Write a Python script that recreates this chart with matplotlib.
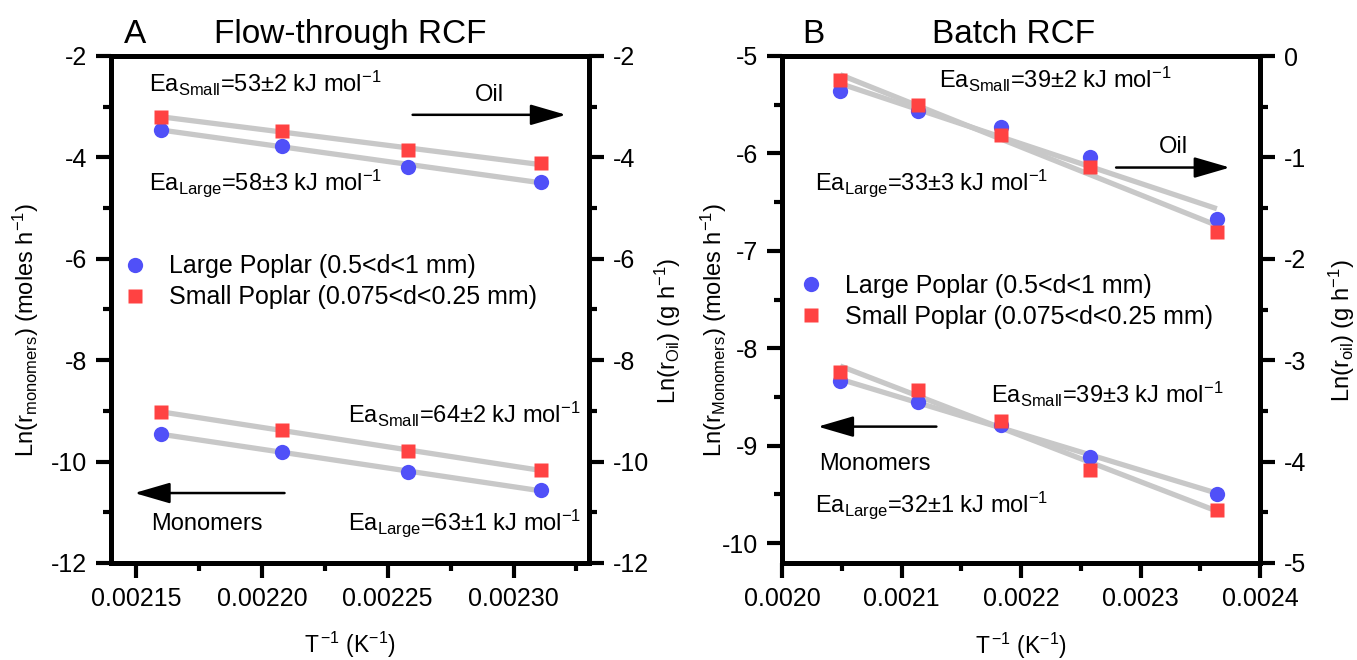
import numpy as np
import matplotlib
matplotlib.use('Agg')
import matplotlib.pyplot as plt
from matplotlib.ticker import MultipleLocator, FormatStrFormatter

plt.rcParams['font.family'] = ['Liberation Sans', 'DejaVu Sans']
plt.rcParams['mathtext.fontset'] = 'custom'
plt.rcParams['mathtext.rm'] = 'Liberation Sans'
plt.rcParams['mathtext.it'] = 'Liberation Sans:italic'
plt.rcParams['mathtext.bf'] = 'Liberation Sans:bold'
plt.rcParams['axes.unicode_minus'] = False

# ---------------- data ----------------
# Panel A: flow-through RCF
xA = [0.002160, 0.002208, 0.002258, 0.002311]
oilA_large = [-3.46, -3.77, -4.18, -4.48]
oilA_small = [-3.20, -3.475, -3.86, -4.12]
monA_large = [-9.46, -9.81, -10.20, -10.57]
monA_small = [-9.02, -9.37, -9.80, -10.16]

# Panel B: batch RCF
xB = [0.0020487, 0.002114, 0.0021834, 0.0022574, 0.0023639]
oilB_large = [-0.346, -0.544, -0.702, -0.998, -1.605]
oilB_small = [-0.237, -0.484, -0.781, -1.097, -1.736]
monB_large = [-8.339, -8.549, -8.786, -9.112, -9.492]
monB_small = [-8.24, -8.434, -8.752, -9.247, -9.661]

label_large = 'Large Poplar (0.5<d<1 mm)'
label_small = 'Small Poplar (0.075<d<0.25 mm)'

BLUE = '#5050F8'
RED = '#FF4242'
GRAY = '#C8C8C8'
FS = 17        # annotations / axis titles
FS_TICK = 18
FS_LEG = 18
FS_TITLE = 24

fig = plt.figure(figsize=(13.57, 6.6), dpi=100)
W, H = 1357, 660


def make_axes(left_px, right_px, top_px, bottom_px):
    return fig.add_axes([left_px / W, 1 - bottom_px / H,
                         (right_px - left_px) / W, (bottom_px - top_px) / H])


def style(ax):
    for s in ax.spines.values():
        s.set_linewidth(3.6)
    ax.tick_params(which='major', direction='out', length=11, width=3,
                   labelsize=FS_TICK, pad=6)
    ax.tick_params(which='minor', direction='out', length=6, width=3)


def fit_line(ax, x, y):
    x = np.asarray(x)
    p = np.polyfit(x, y, 1)
    xx = np.array([x.min(), x.max()])
    ax.plot(xx, np.polyval(p, xx), color=GRAY, lw=3.8, zorder=1,
            solid_capstyle='butt')


def series(ax, x, yl, ys):
    fit_line(ax, x, yl)
    fit_line(ax, x, ys)
    h1, = ax.plot(x, yl, 'o', color=BLUE, ms=11, mec='none', zorder=3,
                  label=label_large)
    h2, = ax.plot(x, ys, 's', color=RED, ms=10, mec='none', zorder=3,
                  label=label_small)
    return h1, h2


def arrow(ax, x0, x1, y):
    ax.annotate('', xy=(x1, y), xytext=(x0, y), xycoords='axes fraction',
                textcoords='axes fraction',
                arrowprops=dict(arrowstyle='-|>,head_length=1.1,head_width=0.32',
                                mutation_scale=20, lw=1.8, color='black',
                                shrinkA=0, shrinkB=0))


def txt(ax, x, y, s, **kw):
    ax.text(x, y, s, transform=ax.transAxes, fontsize=FS, va='baseline', **kw)


XLABEL = r'T$^{\,\mathrm{-1}}$ (K$^{\mathrm{-1}}$)'

# ================= Panel A =================
axA = make_axes(111, 589, 56, 563)
axA2 = axA.twinx()
for a in (axA, axA2):
    style(a)
    a.set_xlim(0.00214, 0.00233)
    a.set_ylim(-12, -2)
    a.yaxis.set_major_locator(MultipleLocator(2))
    a.yaxis.set_minor_locator(MultipleLocator(1))
    a.yaxis.set_major_formatter(FormatStrFormatter('%d'))
axA.xaxis.set_major_locator(MultipleLocator(0.00005))
axA.xaxis.set_minor_locator(MultipleLocator(0.000025))
axA.xaxis.set_major_formatter(FormatStrFormatter('%.5f'))

series(axA, xA, monA_large, monA_small)
h1, h2 = series(axA2, xA, oilA_large, oilA_small)

axA.text(0.028, 1.026, 'A', transform=axA.transAxes, fontsize=FS_TITLE, va='baseline')
axA.text(0.5, 1.026, 'Flow-through RCF', transform=axA.transAxes, fontsize=FS_TITLE,
         va='baseline', ha='center')
txt(axA, 0.08, 0.929, r'Ea$_{\mathrm{Small}}$=53$\pm$2 kJ mol$^{\mathrm{-1}}$')
txt(axA, 0.08, 0.736, r'Ea$_{\mathrm{Large}}$=58$\pm$3 kJ mol$^{\mathrm{-1}}$')
txt(axA, 0.791, 0.911, 'Oil', ha='center')
arrow(axA, 0.631, 0.952, 0.884)
txt(axA, 0.496, 0.277, r'Ea$_{\mathrm{Small}}$=64$\pm$2 kJ mol$^{\mathrm{-1}}$')
txt(axA, 0.496, 0.065, r'Ea$_{\mathrm{Large}}$=63$\pm$1 kJ mol$^{\mathrm{-1}}$')
arrow(axA, 0.363, 0.049, 0.138)
txt(axA, 0.083, 0.065, 'Monomers')

axA2.legend(handles=[h1, h2], loc='center left', bbox_to_anchor=(0.024, 0.5545),
            frameon=False, fontsize=FS_LEG, handlelength=1.0, handletextpad=0.85,
            labelspacing=0.28, borderpad=0, borderaxespad=0)

axA.text(-0.178, 0.46, r'Ln(r$_{\mathrm{monomers}}$) (moles h$^{\mathrm{-1}}$)',
         transform=axA.transAxes, rotation=90, fontsize=FS, ha='center', va='center')
axA.text(1.165, 0.458, r'Ln(r$_{\mathrm{Oil}}$) (g h$^{\mathrm{-1}}$)',
         transform=axA.transAxes, rotation=90, fontsize=FS, ha='center', va='center')
axA.text(0.5, -0.178, XLABEL, transform=axA.transAxes,
         fontsize=16.5, ha='center', va='baseline')

# ================= Panel B =================
axB = make_axes(782, 1260, 56, 563)
axB2 = axB.twinx()
for a in (axB, axB2):
    style(a)
    a.set_xlim(0.0020, 0.0024)
    a.yaxis.set_major_formatter(FormatStrFormatter('%d'))
axB.set_ylim(-10.205, -5)
axB.yaxis.set_major_locator(MultipleLocator(1))
axB.yaxis.set_minor_locator(MultipleLocator(0.5))
axB2.set_ylim(-5, 0)
axB2.yaxis.set_major_locator(MultipleLocator(1))
axB2.yaxis.set_minor_locator(MultipleLocator(0.5))
axB.xaxis.set_major_locator(MultipleLocator(0.0001))
axB.xaxis.set_minor_locator(MultipleLocator(0.00005))
axB.xaxis.set_major_formatter(FormatStrFormatter('%.4f'))

series(axB, xB, monB_large, monB_small)
g1, g2 = series(axB2, xB, oilB_large, oilB_small)

axB.text(0.043, 1.026, 'B', transform=axB.transAxes, fontsize=FS_TITLE, va='baseline')
axB.text(0.484, 1.026, 'Batch RCF', transform=axB.transAxes, fontsize=FS_TITLE,
         va='baseline', ha='center')
txt(axB, 0.328, 0.936, r'Ea$_{\mathrm{Small}}$=39$\pm$2 kJ mol$^{\mathrm{-1}}$')
txt(axB, 0.0686, 0.736, r'Ea$_{\mathrm{Large}}$=33$\pm$3 kJ mol$^{\mathrm{-1}}$')
txt(axB, 0.818, 0.808, 'Oil', ha='center')
arrow(axB, 0.699, 0.937, 0.780)
txt(axB, 0.438, 0.316, r'Ea$_{\mathrm{Small}}$=39$\pm$3 kJ mol$^{\mathrm{-1}}$')
arrow(axB, 0.323, 0.075, 0.269)
txt(axB, 0.0767, 0.183, 'Monomers')
txt(axB, 0.0686, 0.101, r'Ea$_{\mathrm{Large}}$=32$\pm$1 kJ mol$^{\mathrm{-1}}$')

axB2.legend(handles=[g1, g2], loc='center left', bbox_to_anchor=(0.035, 0.5155),
            frameon=False, fontsize=FS_LEG, handlelength=1.0, handletextpad=0.85,
            labelspacing=0.28, borderpad=0, borderaxespad=0)

axB.text(-0.142, 0.46, r'Ln(r$_{\mathrm{Monomers}}$) (moles h$^{\mathrm{-1}}$)',
         transform=axB.transAxes, rotation=90, fontsize=FS, ha='center', va='center')
axB.text(1.172, 0.458, r'Ln(r$_{\mathrm{oil}}$) (g h$^{\mathrm{-1}}$)',
         transform=axB.transAxes, rotation=90, fontsize=FS, ha='center', va='center')
axB.text(0.5, -0.18, XLABEL, transform=axB.transAxes,
         fontsize=16.5, ha='center', va='baseline')

fig.savefig('out.png', dpi=100)
